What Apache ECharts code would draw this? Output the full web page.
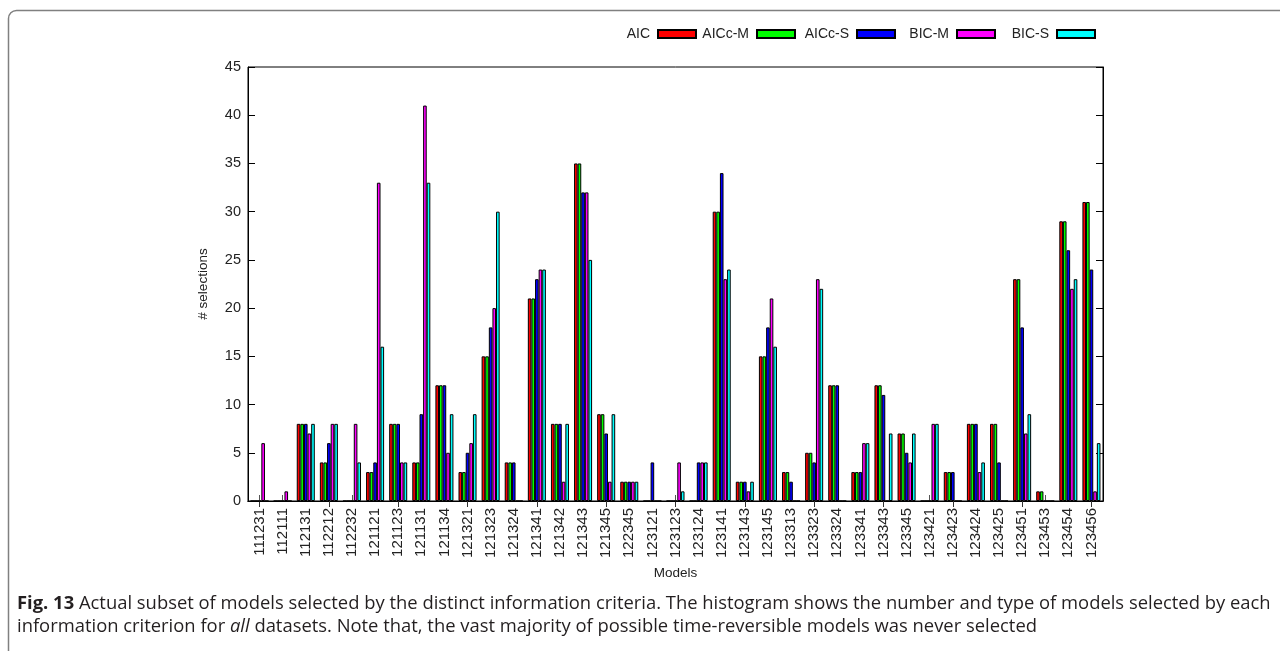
<!DOCTYPE html>
<html>
<head>
<meta charset="utf-8">
<script src="https://cdn.jsdelivr.net/npm/echarts@6/dist/echarts.min.js"></script>
<style>html,body{margin:0;padding:0;background:#fff;}#c{width:1280px;height:651px;}</style>
</head>
<body>
<div id="c"></div>
<script>
const categories = ['111231','112111','112131','112212','112232','121121','121123','121131','121134','121321','121323','121324','121341','121342','121343','121345','122345','123121','123123','123124','123141','123143','123145','123313','123323','123324','123341','123343','123345','123421','123423','123424','123425','123451','123453','123454','123456'];
const aic   = [0,0,8,4,0,3,8,4,12,3,15,4,21,8,35,9,2,0,0,0,30,2,15,3,5,12,3,12,7,0,3,8,8,23,1,29,31];
const aiccM = [0,0,8,4,0,3,8,4,12,3,15,4,21,8,35,9,2,0,0,0,30,2,15,3,5,12,3,12,7,0,3,8,8,23,1,29,31];
const aiccS = [0,0,8,6,0,4,8,9,12,5,18,4,23,8,32,7,2,4,0,4,34,2,18,2,4,12,3,11,5,0,3,8,4,18,0,26,24];
const bicM  = [6,1,7,8,8,33,4,41,5,6,20,0,24,2,32,2,2,0,4,4,23,1,21,0,23,0,6,0,4,8,0,3,0,7,0,22,1];
const bicS  = [0,0,8,8,4,16,4,33,9,9,30,0,24,8,25,9,2,0,1,4,24,2,16,0,22,0,6,7,7,8,0,4,0,9,0,23,6];
const yTicks = {min: 0, max: 45, interval: 5};
const seriesNames = ['AIC','AICc-M','AICc-S','BIC-M','BIC-S'];
const seriesColors = ['#ff0000','#00ff00','#0000ff','#ff00ff','#00ffff'];
const seriesData = [aic, aiccM, aiccS, bicM, bicS];
const captionLine1 = '{b|Fig. 13} Actual subset of models selected by the distinct information criteria. The histogram shows the number and type of models selected by each';
const captionLine2 = 'information criterion for {i|all} datasets. Note that, the vast majority of possible time-reversible models was never selected';

const chart = echarts.init(document.getElementById('c'), null, {renderer: 'canvas'});
const font = "'Liberation Sans', Arial, sans-serif";
const legendRights = [583, 484, 384, 284, 184];
const capSize = 18.4;

const option = {
  animation: false,
  backgroundColor: '#fff',
  title: {
    text: captionLine1 + '\n' + captionLine2,
    left: 17, top: 592,
    padding: 0,
    textStyle: {
      fontFamily: "'Open Sans'", fontSize: capSize, fontWeight: 'normal', color: '#231f20', lineHeight: 23,
      rich: {
        b: {fontFamily: "'Open Sans'", fontSize: capSize, fontWeight: 'bold', color: '#231f20', lineHeight: 23},
        i: {fontFamily: "'Open Sans'", fontSize: capSize, fontStyle: 'italic', color: '#231f20', lineHeight: 23}
      }
    }
  },
  graphic: [{
    type: 'rect',
    shape: {x: 8.5, y: 10.5, width: 1400, height: 900, r: 8},
    style: {fill: 'none', stroke: '#808080', lineWidth: 1.5},
    silent: true,
    z: -10
  }],
  legend: seriesNames.map((n, i) => ({
    data: [n],
    right: legendRights[i],
    top: 27,
    padding: 0,
    align: 'right',
    itemWidth: 38,
    itemHeight: 8,
    icon: 'rect',
    selectedMode: false,
    textStyle: {fontFamily: font, fontSize: 14, color: '#222', padding: [0, 3, 0, 0]}
  })),
  grid: {left: 248, right: 177, top: 67, bottom: 150, show: true, borderColor: '#000', borderWidth: 1, containLabel: false},
  xAxis: [{
    type: 'category',
    data: categories,
    name: 'Models',
    nameLocation: 'middle',
    nameGap: 64,
    nameTextStyle: {fontFamily: font, fontSize: 13.5, color: '#222'},
    axisLine: {lineStyle: {color: '#000', width: 1}},
    axisTick: {show: true, inside: true, length: 6, alignWithLabel: true, lineStyle: {color: '#555'}},
    axisLabel: {rotate: 90, margin: 7, interval: 0, fontFamily: font, fontSize: 15, color: '#222'},
    splitLine: {show: false}
  }, {
    type: 'category',
    data: categories,
    position: 'top',
    axisLine: {lineStyle: {color: '#000', width: 1}},
    axisTick: {show: true, inside: true, length: 6, alignWithLabel: true, lineStyle: {color: '#333'}},
    axisLabel: {show: false},
    splitLine: {show: false}
  }],
  yAxis: [{
    type: 'value',
    min: yTicks.min, max: yTicks.max, interval: yTicks.interval,
    name: '# selections',
    nameLocation: 'middle',
    nameGap: 38,
    nameRotate: 90,
    nameTextStyle: {fontFamily: font, fontSize: 13.5, color: '#222'},
    axisLine: {show: true, lineStyle: {color: '#000', width: 1}},
    axisTick: {show: true, inside: true, length: 7, lineStyle: {color: '#000'}},
    axisLabel: {margin: 7, fontFamily: font, fontSize: 14.5, color: '#222'},
    splitLine: {show: false}
  }, {
    type: 'value',
    position: 'right',
    min: yTicks.min, max: yTicks.max, interval: yTicks.interval,
    axisLine: {show: true, lineStyle: {color: '#000', width: 1}},
    axisTick: {show: true, inside: true, length: 7, lineStyle: {color: '#000'}},
    axisLabel: {show: false},
    splitLine: {show: false}
  }],
  series: seriesNames.map((n, i) => ({
    name: n,
    type: 'bar',
    xAxisIndex: 0,
    yAxisIndex: 0,
    data: seriesData[i],
    barGap: '0%',
    barCategoryGap: '22%',
    itemStyle: {color: seriesColors[i], borderColor: '#000', borderWidth: 1},
    emphasis: {disabled: true}
  }))
};
chart.setOption(option);
</script>
</body>
</html>
